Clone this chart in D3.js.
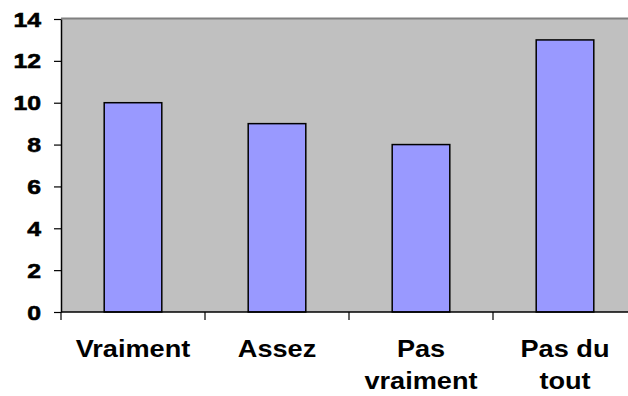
<!DOCTYPE html>
<html>
<head>
<meta charset="utf-8">
<script src="https://cdn.jsdelivr.net/npm/d3@7"></script>
<style>
  html, body { margin: 0; padding: 0; background: #ffffff; }
  svg { display: block; }
  text { font-family: Arial, "Liberation Sans", sans-serif; font-weight: bold; fill: #000; }
</style>
</head>
<body>
<svg id="chart" width="628" height="396"></svg>
<script>
// Responses per answer category
const categories = [["Vraiment"], ["Assez"], ["Pas", "vraiment"], ["Pas du", "tout"]];
const values = [10, 9, 8, 13];
const yTicks = [0, 2, 4, 6, 8, 10, 12, 14];

const svg = d3.select("#chart");
const plot = { left: 61, right: 637, top: 19, bottom: 312 };
const stretch = 1.18; // wide rendering of the bold labels

const x = d3.scaleBand()
  .domain(d3.range(categories.length))
  .range([plot.left, plot.right])
  .padding(0);

const y = d3.scaleLinear()
  .domain([0, 14])
  .range([plot.bottom, plot.top]);

// Plot area background
svg.append("rect")
  .attr("x", plot.left).attr("y", plot.top)
  .attr("width", plot.right - plot.left).attr("height", plot.bottom - plot.top)
  .attr("fill", "#c0c0c0");

// Top border of the plot area
svg.append("line")
  .attr("x1", plot.left).attr("x2", plot.right)
  .attr("y1", plot.top - 0.5).attr("y2", plot.top - 0.5)
  .attr("stroke", "#808080").attr("stroke-width", 2);

// Bars
const barW = x.bandwidth() * 0.4;
svg.selectAll("rect.bar")
  .data(values)
  .join("rect")
  .attr("class", "bar")
  .attr("x", (d, i) => x(i) + (x.bandwidth() - barW) / 2)
  .attr("y", d => y(d))
  .attr("width", barW)
  .attr("height", d => y(0) - y(d))
  .attr("fill", "#9999ff")
  .attr("stroke", "#000")
  .attr("stroke-width", 1.5);

// Y axis line and ticks
const yAxis = svg.append("g")
  .attr("transform", `translate(${plot.left},0)`)
  .call(d3.axisLeft(y).tickValues(yTicks).tickSize(7).tickSizeOuter(0).tickFormat(""));
yAxis.select(".domain").attr("stroke", "#000").attr("stroke-width", 1.5);
yAxis.selectAll(".tick line").attr("stroke", "#000").attr("stroke-width", 1.2);

// Y tick labels
svg.selectAll("text.ylab")
  .data(yTicks)
  .join("text")
  .attr("class", "ylab")
  .attr("text-anchor", "end")
  .attr("dy", "0.36em")
  .style("font-size", "21px")
  .attr("stroke", "#000")
  .attr("stroke-width", 0.6)
  .attr("transform", d => `translate(41,${y(d)}) scale(${stretch},1)`)
  .text(d => d);

// X axis: ticks at category boundaries
const boundaries = d3.range(categories.length + 1).map(i => plot.left + i * x.bandwidth());
svg.append("line")
  .attr("x1", plot.left).attr("x2", plot.right)
  .attr("y1", plot.bottom).attr("y2", plot.bottom)
  .attr("stroke", "#000").attr("stroke-width", 1.5);
svg.selectAll("line.xtick")
  .data(boundaries)
  .join("line")
  .attr("class", "xtick")
  .attr("x1", d => d).attr("x2", d => d)
  .attr("y1", plot.bottom).attr("y2", plot.bottom + 8)
  .attr("stroke", "#000").attr("stroke-width", 1.2);

// Category labels
const labels = svg.selectAll("text.cat")
  .data(categories)
  .join("text")
  .attr("class", "cat")
  .attr("text-anchor", "middle")
  .style("font-size", "23px")
  .attr("transform", (d, i) => `translate(${x(i) + x.bandwidth() / 2},357) scale(${stretch},1)`);
labels.selectAll("tspan")
  .data(d => d)
  .join("tspan")
  .attr("x", 0)
  .attr("dy", (d, j) => j === 0 ? 0 : 32)
  .text(d => d);
</script>
</body>
</html>
